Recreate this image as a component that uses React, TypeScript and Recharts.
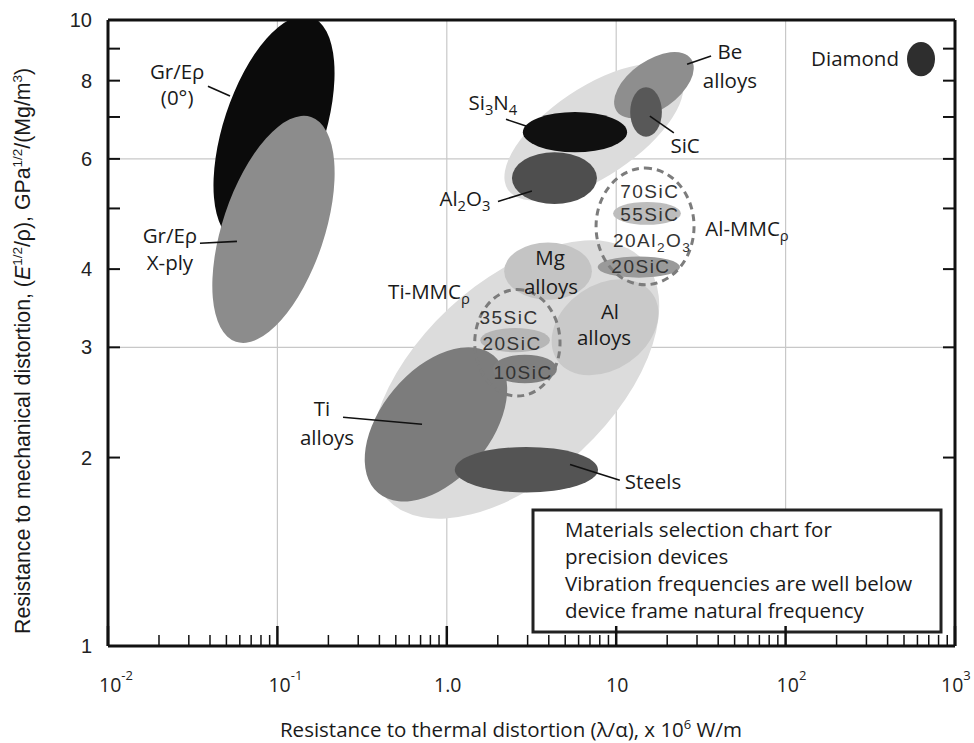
import React from 'react';
import {
  ScatterChart,
  Scatter,
  XAxis,
  YAxis,
  CartesianGrid,
  useXAxisScale,
  useYAxisScale,
  usePlotArea,
} from 'recharts';

const LABEL_FONT = '"Open Sans", sans-serif';
const AXIS_FONT = '"Liberation Sans", Arial, sans-serif';

// each region: centre (x, y), end of its long axis (ax, ay), end of its short axis (bx, by)
const REGIONS = [
  { id: 'metalEnvelope', x: 2.53, y: 2.665, ax: 14.4, ay: 4.14, bx: 6.2, by: 2.05 },
  { id: 'ceramicEnvelope', x: 7.39, y: 6.62, ax: 23.8, ay: 8.18, bx: 10.4, by: 5.78 },
  { id: 'grEp0', x: 0.0955, y: 6.69, ax: 0.158, ay: 10.11, bx: 0.183, by: 6.31 },
  { id: 'grEpXply', x: 0.0948, y: 4.63, ax: 0.158, ay: 7.0, bx: 0.183, by: 4.37 },
  { id: 'be', x: 16.7, y: 7.87, ax: 27.7, ay: 8.66, bx: 20.2, by: 7.3 },
  { id: 'sic', x: 15.0, y: 7.13, ax: 15.0, ay: 7.81, bx: 18.6, by: 7.13 },
  { id: 'al2o3', x: 4.32, y: 5.59, ax: 7.7, ay: 5.59, bx: 4.32, by: 6.15 },
  { id: 'si3n4', x: 5.71, y: 6.62, ax: 11.6, ay: 6.62, bx: 5.71, by: 7.13 },
  { id: 'mg', x: 3.96, y: 3.97, ax: 7.19, ay: 3.97, bx: 3.96, by: 4.41 },
  { id: 'al', x: 8.59, y: 3.23, ax: 16.4, ay: 3.65, bx: 11.9, by: 2.84 },
  { id: 'alMmc55', x: 15.2, y: 4.91, ax: 24.1, ay: 4.91, bx: 15.2, by: 5.12 },
  { id: 'alMmc20', x: 13.6, y: 4.03, ax: 23.8, ay: 4.03, bx: 13.6, by: 4.19 },
  { id: 'alMmc', x: 14.8, y: 4.68, ax: 14.8, ay: 5.8, bx: 28.8, by: 4.68 },
  { id: 'ti', x: 0.863, y: 2.26, ax: 1.89, ay: 2.91, bx: 1.52, by: 1.985 },
  { id: 'tiMmc20', x: 2.53, y: 3.08, ax: 4.06, ay: 3.08, bx: 2.53, by: 3.22 },
  { id: 'tiMmc10', x: 2.89, y: 2.77, ax: 4.47, ay: 2.77, bx: 2.89, by: 2.92 },
  { id: 'tiMmc', x: 2.61, y: 3.05, ax: 2.61, ay: 3.71, bx: 4.66, by: 3.05 },
  { id: 'steels', x: 2.95, y: 1.913, ax: 7.81, ay: 1.913, bx: 2.95, by: 2.08 },
  { id: 'diamond', x: 630, y: 8.66, ax: 630, ay: 9.22, bx: 762, by: 8.66 },
];

const REGION_STYLE: Record<string, { fill: string; stroke?: string; dash?: string }> = {
  metalEnvelope: { fill: '#dcdcdc' },
  ceramicEnvelope: { fill: '#dcdcdc' },
  grEp0: { fill: '#0b0b0b' },
  grEpXply: { fill: '#8c8c8c' },
  be: { fill: '#8e8e8e' },
  sic: { fill: '#585858' },
  al2o3: { fill: '#4e4e4e' },
  si3n4: { fill: '#101010' },
  mg: { fill: '#c4c4c4' },
  al: { fill: '#c9c9c9' },
  alMmc55: { fill: '#bdbdbd' },
  alMmc20: { fill: '#9a9a9a' },
  alMmc: { fill: 'none', stroke: '#7c7c7c', dash: '7 5' },
  ti: { fill: '#7c7c7c' },
  tiMmc20: { fill: '#b6b6b6' },
  tiMmc10: { fill: '#7f7f7f' },
  tiMmc: { fill: 'none', stroke: '#7c7c7c', dash: '7 5' },
  steels: { fill: '#545454' },
  diamond: { fill: '#2e2e2e' },
};

const LABELS = [
  { text: 'Gr/Eρ', x: 0.0256, y: 8.26 },
  { text: '(0°)', x: 0.0256, y: 7.5 },
  { text: 'Gr/Eρ', x: 0.0232, y: 4.51 },
  { text: 'X-ply', x: 0.0232, y: 4.09 },
  { text: 'Si_{3}N_{4}', x: 1.87, y: 7.37 },
  { text: 'Al_{2}O_{3}', x: 1.28, y: 5.17 },
  { text: 'Be', x: 46.9, y: 8.89 },
  { text: 'alloys', x: 46.9, y: 7.99 },
  { text: 'SiC', x: 25.5, y: 6.29 },
  { text: 'Diamond', x: 257, y: 8.66 },
  { text: 'Al-MMC_{ρ}', x: 59.2, y: 4.63 },
  { text: 'Mg', x: 4.07, y: 4.16 },
  { text: 'alloys', x: 4.12, y: 3.75 },
  { text: 'Ti-MMC_{ρ}', x: 0.785, y: 3.68 },
  { text: 'Al', x: 9.19, y: 3.42 },
  { text: 'alloys', x: 8.47, y: 3.11 },
  { text: 'Ti', x: 0.1834, y: 2.39 },
  { text: 'alloys', x: 0.1963, y: 2.15 },
  { text: 'Steels', x: 16.5, y: 1.83 },
];

const BAND_LABELS = [
  { text: '70SiC', x: 15.8, y: 5.33 },
  { text: '55SiC', x: 15.8, y: 4.89 },
  { text: '20Al_{2}O_{3}', x: 16.3, y: 4.46 },
  { text: '20SiC', x: 14.0, y: 4.04 },
  { text: '35SiC', x: 2.33, y: 3.35 },
  { text: '20SiC', x: 2.43, y: 3.05 },
  { text: '10SiC', x: 2.82, y: 2.74 },
];

// leader lines from label to region
const LEADERS = [
  { x: 0.0389, y: 7.84, x2: 0.0525, y2: 7.56 },
  { x: 0.0349, y: 4.4, x2: 0.0577, y2: 4.43 },
  { x: 2.236, y: 6.94, x2: 2.934, y2: 6.77 },
  { x: 2.005, y: 5.13, x2: 3.18, y2: 5.33 },
  { x: 26.2, y: 8.5, x2: 36.3, y2: 8.76 },
  { x: 15.8, y: 7.02, x2: 21.9, y2: 6.6 },
  { x: 0.244, y: 2.32, x2: 0.714, y2: 2.26 },
  { x: 5.34, y: 1.95, x2: 10.5, y2: 1.84 },
];

const DECADES = [0.01, 0.1, 1, 10, 100];
const MULTIPLES = [1, 2, 3, 4, 5, 6, 7, 8, 9];
const X_TICKS = DECADES.flatMap(d => MULTIPLES.map(m => +(d * m).toPrecision(2))).concat([1000]);
const X_TICK_LABELS: Record<string, [string, string]> = {
  '0.01': ['10', '-2'],
  '0.1': ['10', '-1'],
  '1': ['1.0', ''],
  '10': ['10', ''],
  '100': ['10', '2'],
  '1000': ['10', '3'],
};
const Y_TICKS = [1, 2, 3, 4, 5, 6, 7, 8, 9, 10];
const Y_TICK_LABELS: Record<string, string> = { '1': '1', '2': '2', '3': '3', '4': '4', '6': '6', '8': '8', '10': '10' };
const GRID_X = [0.1, 1, 10, 100];
const GRID_Y = [3, 6];

const NOTE = [
  'Materials selection chart for',
  'precision devices',
  'Vibration frequencies are well below',
  'device frame natural frequency',
];

const toPx = (scale: any, v: number): number => {
  if (!scale) return NaN;
  if (typeof scale === 'function') return scale(v);
  if (typeof scale.map === 'function') return scale.map(v);
  return NaN;
};

const isDecade = (v: number) => Math.abs(Math.log10(v) - Math.round(Math.log10(v))) < 1e-9;

// text with _{sub} and ^{sup} parts
const Rich = ({ text, ...rest }: any) => {
  const parts = text.split(/(_\{[^}]*\}|\^\{[^}]*\})/).filter(Boolean);
  let shift = 0;
  return (
    <text {...rest}>
      {parts.map((p: string, i: number) => {
        if (p.startsWith('_{')) {
          const dy = 5 - shift;
          shift = 5;
          return <tspan key={i} dy={dy} fontSize="0.72em">{p.slice(2, -1)}</tspan>;
        }
        if (p.startsWith('^{')) {
          const dy = -7 - shift;
          shift = -7;
          return <tspan key={i} dy={dy} fontSize="0.65em">{p.slice(2, -1)}</tspan>;
        }
        const dy = -shift;
        shift = 0;
        return <tspan key={i} dy={dy}>{p}</tspan>;
      })}
    </text>
  );
};

const RegionShape = (props: any) => {
  const xs = useXAxisScale();
  const ys = useYAxisScale();
  const { cx, cy, payload } = props;
  const ax = toPx(xs, payload.ax);
  const ay = toPx(ys, payload.ay);
  const bx = toPx(xs, payload.bx);
  const by = toPx(ys, payload.by);
  if (![cx, cy, ax, ay, bx, by].every(Number.isFinite)) return null;
  const rx = Math.hypot(ax - cx, ay - cy);
  const ry = Math.hypot(bx - cx, by - cy);
  const rot = (Math.atan2(ay - cy, ax - cx) * 180) / Math.PI;
  const st = REGION_STYLE[payload.id];
  return (
    <ellipse
      cx={cx}
      cy={cy}
      rx={rx}
      ry={ry}
      transform={`rotate(${rot} ${cx} ${cy})`}
      fill={st.fill}
      stroke={st.stroke || 'none'}
      strokeWidth={st.stroke ? 3 : 0}
      strokeDasharray={st.dash}
    />
  );
};

const LeaderShape = (props: any) => {
  const xs = useXAxisScale();
  const ys = useYAxisScale();
  const { cx, cy, payload } = props;
  const x2 = toPx(xs, payload.x2);
  const y2 = toPx(ys, payload.y2);
  if (![cx, cy, x2, y2].every(Number.isFinite)) return null;
  return <line x1={cx} y1={cy} x2={x2} y2={y2} stroke="#111" strokeWidth={1.6} />;
};

const LabelShape = (props: any) => {
  const { cx, cy, payload } = props;
  return (
    <Rich
      text={payload.text}
      x={cx}
      y={cy + 7}
      textAnchor="middle"
      fontFamily={LABEL_FONT}
      fontSize={20.5}
      fill="#1a1a1a"
    />
  );
};

const BandLabelShape = (props: any) => {
  const { cx, cy, payload } = props;
  return (
    <Rich
      text={payload.text}
      x={cx}
      y={cy + 7}
      textAnchor="middle"
      fontFamily={AXIS_FONT}
      fontSize={19}
      letterSpacing={1.5}
      fill="#333"
    />
  );
};

const BottomTick = (props: any) => {
  const { x, y, payload } = props;
  const v = payload.value;
  const major = isDecade(v);
  const lab = X_TICK_LABELS[String(v)];
  const startX = v >= 1000 ? x - 14 : x - 9;
  return (
    <g>
      <line x1={x} x2={x} y1={y} y2={y - (major ? 20 : 11)} stroke="#111" strokeWidth={major ? 2.5 : 1.5} />
      {lab && lab[1] !== '' && (
        <text x={startX} y={y + 46} fontFamily={LABEL_FONT} fontSize={19.5} fill="#222">
          {lab[0]}
          <tspan dy={-12} fontSize={13}>{lab[1]}</tspan>
        </text>
      )}
      {lab && lab[1] === '' && (
        <text x={x + 1} y={y + 46} textAnchor="middle" fontFamily={LABEL_FONT} fontSize={19.5} fill="#222">
          {lab[0]}
        </text>
      )}
    </g>
  );
};

const TopTick = (props: any) => {
  const { x, y, payload } = props;
  const major = isDecade(payload.value);
  return <line x1={x} x2={x} y1={y} y2={y + (major ? 20 : 11)} stroke="#111" strokeWidth={major ? 2.5 : 1.5} />;
};

const LeftTick = (props: any) => {
  const { x, y, payload } = props;
  const lab = Y_TICK_LABELS[String(payload.value)];
  return (
    <g>
      <line x1={x} x2={x + 12} y1={y} y2={y} stroke="#111" strokeWidth={2} />
      {lab && (
        <text x={x - 16} y={y + 7} textAnchor="end" fontFamily={AXIS_FONT} fontSize={20} fill="#222">
          {lab}
        </text>
      )}
    </g>
  );
};

const RightTick = (props: any) => {
  const { x, y } = props;
  return <line x1={x} x2={x - 12} y1={y} y2={y} stroke="#111" strokeWidth={2} />;
};

const Annotations = () => {
  const plot: any = usePlotArea();
  if (!plot) return null;
  const boxW = 408;
  const boxH = 122;
  const boxX = plot.x + plot.width - 14 - boxW;
  const boxY = plot.y + plot.height - 14 - boxH;
  return (
    <g>
      <rect x={boxX} y={boxY} width={boxW} height={boxH} fill="#fff" stroke="#222" strokeWidth={3} />
      {NOTE.map((line, i) => (
        <text key={`n${i}`} x={boxX + 32} y={boxY + 27 + i * 27} fontFamily={LABEL_FONT} fontSize={20.5} fill="#1a1a1a">
          {line}
        </text>
      ))}
      <text x={511} y={737} textAnchor="middle" fontFamily={LABEL_FONT} fontSize={20.5} fill="#1a1a1a">
        Resistance to thermal distortion (λ/α), x 10
        <tspan dy={-8} fontSize={13}>6</tspan>
        <tspan dy={8}> W/m</tspan>
      </text>
      <text
        transform="translate(30,634) rotate(-90)"
        textAnchor="start"
        fontFamily={AXIS_FONT}
        fontSize={21.3}
        fill="#1a1a1a"
      >
        Resistance to mechanical distortion, (<tspan fontStyle="italic">E</tspan>
        <tspan dy={-8} fontSize={13.5}>1/2</tspan>
        <tspan dy={8}>/ρ), GPa</tspan>
        <tspan dy={-8} fontSize={13.5}>1/2</tspan>
        <tspan dy={8}>/(Mg/m</tspan>
        <tspan dy={-8} fontSize={13.5}>3</tspan>
        <tspan dy={8}>)</tspan>
      </text>
    </g>
  );
};

export default function App() {
  const frame = { stroke: '#111', strokeWidth: 3 };
  return (
    <div style={{ position: 'absolute', left: 0, top: 0, background: '#fff' }}>
      <ScatterChart width={974} height={743} margin={{ top: 10, right: 9, bottom: 57, left: 48 }}>
        <CartesianGrid
          horizontalValues={GRID_Y}
          verticalValues={GRID_X}
          stroke="#c8c8c8"
          strokeWidth={1.2}
        />
        <XAxis
          xAxisId={0}
          type="number"
          dataKey="x"
          scale="log"
          domain={[0.01, 1000]}
          allowDataOverflow
          ticks={X_TICKS}
          interval={0}
          tickSize={0}
          tickMargin={0}
          tickLine={false}
          axisLine={frame}
          tick={<BottomTick />}
          height={40}
        />
        <XAxis
          xAxisId="top"
          orientation="top"
          type="number"
          scale="log"
          domain={[0.01, 1000]}
          allowDataOverflow
          ticks={X_TICKS}
          interval={0}
          tickSize={0}
          tickMargin={0}
          tickLine={false}
          axisLine={frame}
          tick={<TopTick />}
          height={10}
        />
        <YAxis
          yAxisId={0}
          type="number"
          dataKey="y"
          scale="log"
          domain={[1, 10]}
          allowDataOverflow
          ticks={Y_TICKS}
          interval={0}
          tickSize={0}
          tickMargin={0}
          tickLine={false}
          axisLine={frame}
          tick={<LeftTick />}
          width={60}
        />
        <YAxis
          yAxisId="right"
          orientation="right"
          type="number"
          scale="log"
          domain={[1, 10]}
          allowDataOverflow
          ticks={Y_TICKS}
          interval={0}
          tickSize={0}
          tickMargin={0}
          tickLine={false}
          axisLine={frame}
          tick={<RightTick />}
          width={10}
        />
        <Annotations />
        <Scatter data={REGIONS} xAxisId={0} yAxisId={0} shape={<RegionShape />} isAnimationActive={false} />
        <Scatter data={LEADERS} xAxisId={0} yAxisId={0} shape={<LeaderShape />} isAnimationActive={false} />
        <Scatter data={BAND_LABELS} xAxisId={0} yAxisId={0} shape={<BandLabelShape />} isAnimationActive={false} />
        <Scatter data={LABELS} xAxisId={0} yAxisId={0} shape={<LabelShape />} isAnimationActive={false} />
      </ScatterChart>
    </div>
  );
}
